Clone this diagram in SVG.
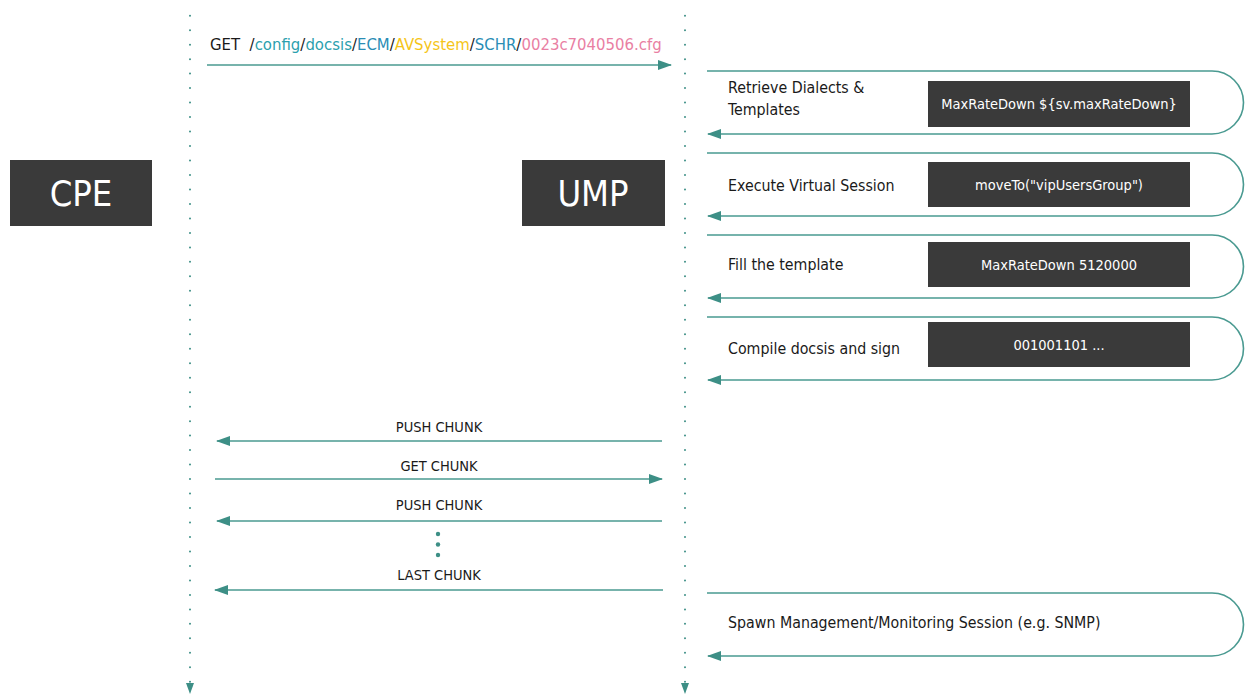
<svg xmlns="http://www.w3.org/2000/svg" width="1247" height="695" viewBox="0 0 1247 695">
<style>
text{font-family:"DejaVu Sans Condensed","Liberation Sans",sans-serif;}
.lbl{font-size:15.8px;fill:#1a1a1a;}
.box{fill:#3a3a3a;}
.bt{font-size:14.5px;fill:#ffffff;text-anchor:middle;}
.big{font-size:36px;fill:#ffffff;text-anchor:middle;}
.msg{stroke:#4a9a91;stroke-width:1.6;fill:none;}
.life{stroke:#3d8f86;stroke-width:2;stroke-dasharray:0 14.48;stroke-linecap:round;fill:none;}
.ml{font-size:14.5px;fill:#1a1a1a;text-anchor:middle;}
</style>
<defs>
<marker id="ah" viewBox="0 0 14 10" refX="13" refY="5" markerWidth="14" markerHeight="10" markerUnits="userSpaceOnUse" orient="auto">
<path d="M0,0 L14,5 L0,10 z" fill="#3d8f86"/>
</marker>
</defs>
<rect width="1247" height="695" fill="#ffffff"/>

<g id="lifelines">
<line class="life" x1="190" y1="15.7" x2="190" y2="684"/>
<line class="life" x1="685" y1="15.7" x2="685" y2="684"/>
<path d="M186,683 L194,683 L190,694 z" fill="#3d8f86"/>
<path d="M681,683 L689,683 L685,694 z" fill="#3d8f86"/>
</g>

<g id="cpe">
<rect class="box" x="10" y="160" width="142" height="66"/>
<text class="big" x="81" y="206">CPE</text>
</g>
<g id="ump">
<rect class="box" x="522" y="160" width="143" height="66"/>
<text class="big" x="593" y="206">UMP</text>
</g>

<g id="connectors">
<line class="msg" x1="207" y1="65" x2="671" y2="65" marker-end="url(#ah)"/>
<path class="msg" d="M707,71 H1212 A31.5,31.5 0 0 1 1212,134 H708" marker-end="url(#ah)"/>
<path class="msg" d="M707,153 H1212 A31.5,31.5 0 0 1 1212,216 H708" marker-end="url(#ah)"/>
<path class="msg" d="M707,235 H1212 A31.5,31.5 0 0 1 1212,298 H708" marker-end="url(#ah)"/>
<path class="msg" d="M707,317 H1212 A31.5,31.5 0 0 1 1212,380 H708" marker-end="url(#ah)"/>
<path class="msg" d="M707,593 H1212 A31.5,31.5 0 0 1 1212,656 H708" marker-end="url(#ah)"/>
<line class="msg" x1="662" y1="441" x2="217" y2="441" marker-end="url(#ah)"/>
<line class="msg" x1="215" y1="479" x2="662" y2="479" marker-end="url(#ah)"/>
<line class="msg" x1="662" y1="521" x2="217" y2="521" marker-end="url(#ah)"/>
<line class="msg" x1="663" y1="590" x2="215" y2="590" marker-end="url(#ah)"/>
<circle cx="438" cy="534" r="2.2" fill="#3d8f86"/>
<circle cx="438" cy="544.5" r="2.2" fill="#3d8f86"/>
<circle cx="438" cy="555" r="2.2" fill="#3d8f86"/>
</g>

<g id="get-label">
<text x="210" y="50" font-size="16.6" fill="#1a1a1a" xml:space="preserve">GET  /<tspan fill="#2b9fae">config</tspan>/<tspan fill="#2b9fae">docsis</tspan>/<tspan fill="#2a8db5">ECM</tspan>/<tspan fill="#f5c518">AVSystem</tspan>/<tspan fill="#2a8db5">SCHR</tspan>/<tspan fill="#e97fa3">0023c7040506.cfg</tspan></text>
</g>

<g id="msg-labels">
<text class="ml" x="439" y="432">PUSH CHUNK</text>
<text class="ml" x="439" y="471">GET CHUNK</text>
<text class="ml" x="439" y="510">PUSH CHUNK</text>
<text class="ml" x="439" y="580">LAST CHUNK</text>
</g>

<g id="step1">
<text class="lbl" x="728" y="93">Retrieve Dialects &amp;</text>
<text class="lbl" x="728" y="115">Templates</text>
<rect class="box" x="928" y="81" width="262" height="46"/>
<text class="bt" x="1059" y="109">MaxRateDown ${sv.maxRateDown}</text>
</g>
<g id="step2">
<text class="lbl" x="728" y="191">Execute Virtual Session</text>
<rect class="box" x="928" y="162" width="262" height="45"/>
<text class="bt" x="1059" y="190">moveTo("vipUsersGroup")</text>
</g>
<g id="step3">
<text class="lbl" x="728" y="270">Fill the template</text>
<rect class="box" x="928" y="242" width="262" height="45"/>
<text class="bt" x="1059" y="270">MaxRateDown 5120000</text>
</g>
<g id="step4">
<text class="lbl" x="728" y="354">Compile docsis and sign</text>
<rect class="box" x="928" y="322" width="262" height="45"/>
<text class="bt" x="1059" y="350">001001101 ...</text>
</g>
<g id="step5">
<text class="lbl" x="728" y="628">Spawn Management/Monitoring Session (e.g. SNMP)</text>
</g>
</svg>
